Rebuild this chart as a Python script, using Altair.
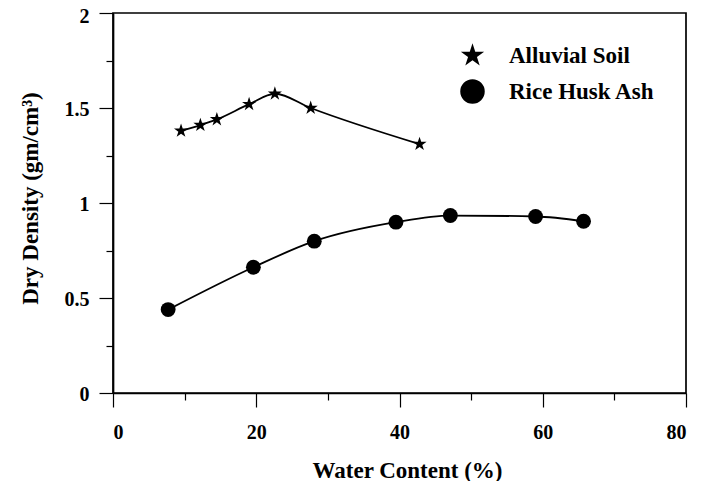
import altair as alt
import pandas as pd

# Data
soil_x = [9.5, 12.2, 14.5, 19.0, 22.6, 27.6, 42.8]
soil_y = [1.38, 1.41, 1.44, 1.52, 1.575, 1.50, 1.31]
ash_x = [7.7, 19.6, 28.1, 39.5, 47.1, 59.0, 65.7]
ash_y = [0.439, 0.662, 0.799, 0.899, 0.934, 0.929, 0.904]
series_names = ["Alluvial Soil", "Rice Husk Ash"]
x_major = [0, 20, 40, 60, 80]
x_minor = [10, 30, 50, 70]
y_major = [0, 0.5, 1, 1.5, 2]
y_minor = [0.25, 0.75, 1.25, 1.75]

rows = []
for x, y in zip(soil_x, soil_y):
    rows.append({"wc": x, "dd": y, "series": series_names[0]})
for x, y in zip(ash_x, ash_y):
    rows.append({"wc": x, "dd": y, "series": series_names[1]})
df = pd.DataFrame(rows)

STAR = ("M0,-1 L0.2245,-0.309 L0.951,-0.309 L0.363,0.118 L0.588,0.809 "
        "L0,0.382 L-0.588,0.809 L-0.363,0.118 L-0.951,-0.309 L-0.2245,-0.309 Z")

FONT = "Liberation Serif"
xscale = alt.Scale(domain=[0, 80], nice=False, zero=False)
yscale = alt.Scale(domain=[0, 2], nice=False, zero=False)

base = alt.Chart(df)

lines = base.mark_line(interpolate="monotone", color="black", strokeWidth=1.8).encode(
    x=alt.X("wc:Q", scale=xscale,
            axis=alt.Axis(orient="bottom", values=x_minor, tickSize=7, labels=False,
                          domain=False, grid=False, title=None, tickColor="black",
                          tickWidth=1.2)),
    y=alt.Y("dd:Q", scale=yscale,
            axis=alt.Axis(orient="left", values=y_minor, tickSize=7, labels=False,
                          domain=False, grid=False, title=None, tickColor="black",
                          tickWidth=1.2)),
    detail="series:N",
)

points = base.mark_point(filled=True, opacity=1, color="black").encode(
    x=alt.X("wc:Q", scale=xscale,
            axis=alt.Axis(orient="bottom", values=x_major, tickSize=14, format="d",
                          grid=False, title="Water Content (%)",
                          labelBaseline="alphabetic", labelPadding=31,
                          titleX=294, titleY=84, titleBaseline="alphabetic",
                          tickColor="black", tickWidth=1.2, domainColor="black",
                          domainWidth=1.7)),
    y=alt.Y("dd:Q", scale=yscale,
            axis=alt.Axis(orient="left", values=y_major, tickSize=14, format="~g",
                          grid=False, title="Dry Density (gm/cm³)",
                          labelPadding=10, labelBaseline="alphabetic",
                          labelOffset={"expr": "datum.value >= 2 ? 9.5 : 7"},
                          titleX=-71, titleY=185,
                          tickColor="black", tickWidth=1.2, domainColor="black",
                          domainWidth=1.7)),
    shape=alt.Shape("series:N",
                    scale=alt.Scale(domain=series_names, range=[STAR, "circle"]),
                    legend=alt.Legend(orient="none", legendX=347, legendY=30, title=None,
                                      symbolSize=600, symbolFillColor="black",
                                      symbolStrokeColor="black", symbolStrokeWidth=0,
                                      labelFontSize=23, labelFont=FONT,
                                      labelFontWeight="bold", labelColor="black",
                                      labelOffset=24, rowPadding=11, padding=0,
                                      symbolOffset=0)),
    size=alt.value(220),
)

chart = alt.layer(lines, points).resolve_axis(
    x="independent", y="independent"
).properties(
    width=573, height=380,
    background="white",
    autosize=alt.AutoSizeParams(type="none"),
    padding={"left": 105, "top": 5, "right": 10, "bottom": 88},
).configure_view(
    stroke="black", strokeWidth=1.7
).configure_axis(
    labelFont=FONT, labelFontSize=20, labelFontWeight="bold", labelColor="black",
    titleFont=FONT, titleFontSize=23, titleFontWeight="bold", titleColor="black",
)

chart.save("out.html", embed_options={"renderer": "svg", "actions": False})
